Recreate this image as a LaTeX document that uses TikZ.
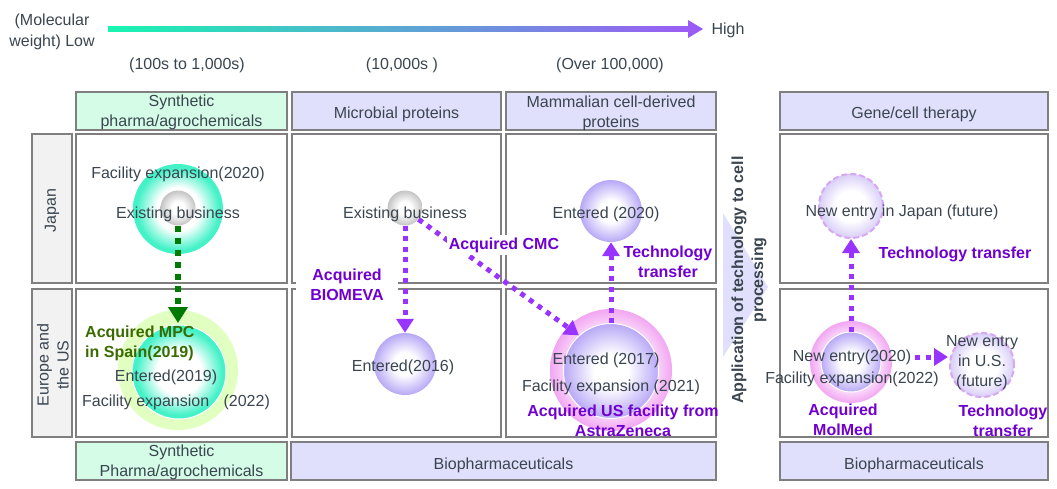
\documentclass[tikz,border=0pt]{standalone}
\usepackage{fontspec}
\setmainfont{Liberation Sans}
\usetikzlibrary{arrows.meta}
\definecolor{tcol}{HTML}{3A4550}
\definecolor{gborder}{HTML}{7F7F7F}
\definecolor{greenfill}{HTML}{D4FCE6}
\definecolor{lavfill}{HTML}{E0E0FC}
\definecolor{grayfill}{HTML}{F2F2F2}
\definecolor{purp}{HTML}{9933FF}
\definecolor{purptxt}{HTML}{7000D0}
\definecolor{dgreen}{HTML}{007A00}
\definecolor{olivetxt}{HTML}{3A6B00}
\definecolor{mteal}{HTML}{44F2C8}
\definecolor{lav}{HTML}{B8A8F6}
\definecolor{mpink}{HTML}{F2A6F2}
\definecolor{lime}{HTML}{E0FFC0}
\definecolor{futborder}{HTML}{D9A6F2}
\definecolor{futfill}{HTML}{D8CEF8}
\definecolor{sgray}{HTML}{C4C4C4}
\definecolor{tealbar}{HTML}{18F5B0}
\definecolor{purpbar}{HTML}{9B5CF5}
\pgfdeclareradialshading{tealball}{\pgfpoint{0bp}{0bp}}{color(0bp)=(white); color(12bp)=(white); color(23bp)=(mteal); color(50bp)=(mteal)}
\pgfdeclareradialshading{lavball}{\pgfpoint{0bp}{0bp}}{color(0bp)=(white); color(9bp)=(white); color(25bp)=(lav); color(50bp)=(lav)}
\pgfdeclareradialshading{pinkball}{\pgfpoint{0bp}{0bp}}{color(0bp)=(white); color(13bp)=(white); color(25bp)=(mpink); color(50bp)=(mpink)}
\pgfdeclareradialshading{grayball}{\pgfpoint{0bp}{0bp}}{color(0bp)=(white); color(9bp)=(white); color(25bp)=(sgray); color(50bp)=(sgray)}
\pgfdeclareradialshading{futball}{\pgfpoint{0bp}{0bp}}{color(0bp)=(white); color(12bp)=(white); color(25bp)=(futfill); color(50bp)=(futfill)}
\begin{document}
\begin{tikzpicture}[x=1pt,y=-1pt,
  lbl/.style={text=tcol, font=\fontsize{16}{20}\selectfont, align=center, inner sep=0pt, yshift=-2pt},
  blbl/.style={text=purptxt, font=\fontsize{16}{20}\selectfont\bfseries, align=center, inner sep=0pt, yshift=-2pt},
  cellbox/.style={draw=gborder, line width=1.2pt, inner sep=0pt},
  hdr/.style={cellbox, minimum height=38pt},
  parrow/.style={draw=purp, line width=5pt, dash pattern=on 5pt off 5.5pt, -{Triangle[width=17pt,length=14pt]}},
  garrow/.style={draw=dgreen, line width=6pt, dash pattern=on 6pt off 6pt, -{Triangle[width=19pt,length=16pt]}},
  ball/.style={circle, inner sep=0pt, shading=#1},
  gsphere/.style={circle, inner sep=0pt, shading=grayball, minimum size=35pt},
  future/.style={circle, inner sep=0pt, shading=futball, draw=futborder, line width=2pt, dash pattern=on 6pt off 3pt, minimum size=64pt}
]
\useasboundingbox (0,0) rectangle (1057,488);

% axis
\node[lbl, font=\fontsize{16}{21}\selectfont] (low) at (52,30) {(Molecular\\weight) Low};
\node[lbl] (high) at (728,28) {High};
\shade[left color=tealbar, right color=purpbar] (108,26.5) rectangle (690,31.5);
\fill[purpbar] (688,20) -- (703,29) -- (688,38) -- cycle;
\node[lbl] (m1) at (187,63) {(100s to 1,000s)};
\node[lbl] (m2) at (402,63) {(10,000s )};
\node[lbl] (m3) at (610,63) {(Over 100,000)};

% headers
\node[hdr, fill=greenfill, minimum width=211pt] (h1) at (181.5,111) {};
\node[hdr, fill=lavfill, minimum width=209pt] (h2) at (396.5,111) {};
\node[hdr, fill=lavfill, minimum width=210pt] (h3) at (611,111) {};
\node[hdr, fill=lavfill, minimum width=268pt] (h4) at (914,111) {};
\node[lbl] (h1t) at (181.5,110) {Synthetic\\pharma/agrochemicals};
\node[lbl] (h2t) at (396.5,112) {Microbial proteins};
\node[lbl] (h3t) at (611,111) {Mammalian cell-derived\\proteins};
\node[lbl] (h4t) at (914,112) {Gene/cell therapy};

% row labels
\node[cellbox, fill=grayfill, minimum width=40pt, minimum height=149pt] (rj) at (52,208.5) {};
\node[lbl, rotate=90, yshift=0pt] (rjt) at (52,208.5) {Japan};
\node[cellbox, fill=grayfill, minimum width=40pt, minimum height=148pt] (re) at (52,363) {};
\node[lbl, rotate=90, yshift=0pt] (ret) at (53,363) {Europe and\\the US};

% cells
\node[cellbox, minimum width=211pt, minimum height=149pt] (c11) at (181.5,208.5) {};
\node[cellbox, minimum width=209pt, minimum height=149pt] (c12) at (396.5,208.5) {};
\node[cellbox, minimum width=210pt, minimum height=149pt] (c13) at (611,208.5) {};
\node[cellbox, minimum width=268pt, minimum height=149pt] (c14) at (914,208.5) {};
\node[cellbox, minimum width=211pt, minimum height=148pt] (c21) at (181.5,363) {};
\node[cellbox, minimum width=209pt, minimum height=148pt] (c22) at (396.5,363) {};
\node[cellbox, minimum width=210pt, minimum height=148pt] (c23) at (611,363) {};
\node[cellbox, minimum width=268pt, minimum height=148pt] (c24) at (914,363) {};

% bottom
\node[hdr, fill=greenfill, minimum width=211pt] (b1) at (181.5,461) {};
\node[hdr, fill=lavfill, minimum width=425pt] (b2) at (503.5,461) {};
\node[hdr, fill=lavfill, minimum width=268pt] (b3) at (914,461) {};
\node[lbl] (b1t) at (181.5,460) {Synthetic\\Pharma/agrochemicals};
\node[lbl] (b2t) at (503.5,463) {Biopharmaceuticals};
\node[lbl] (b3t) at (914,463) {Biopharmaceuticals};

% chevron
\fill[lavfill] (723,213) -- (768,287) -- (723,357) -- cycle;
\node[text=tcol, font=\fontsize{16}{20}\selectfont\bfseries, align=center, inner sep=0pt, rotate=90] (app) at (749,280) {Application of technology to cell\\processing};

% circles
\node[ball=tealball, minimum size=90pt] (t1) at (178,209) {};
\node[gsphere] (g1) at (178,208) {};
\node[circle, inner sep=0pt, fill=lime, minimum size=120pt] (r1) at (178,370) {};
\node[ball=tealball, draw=white, line width=1pt, minimum size=94pt] (t2) at (179,372) {};

\node[gsphere] (g2) at (405,208) {};
\node[ball=lavball, minimum size=62pt] (l2) at (405,364) {};

\node[ball=lavball, minimum size=62pt] (l3) at (611,211) {};
\node[ball=pinkball, minimum size=122pt] (p4) at (611,370) {};
\node[ball=lavball, draw=white, line width=1pt, minimum size=95pt] (l4) at (611,371) {};

\node[future] (f1) at (851,206) {};
\node[ball=pinkball, minimum size=82pt] (p5) at (851,362) {};
\node[ball=lavball, draw=white, line width=1pt, minimum size=60pt] (l5) at (851,362) {};
\node[future] (f2) at (982,365) {};

% arrows
\coordinate (gtip) at (178,323);
\draw[garrow] (g1.south) -- (gtip);
\draw[parrow] (g2.south) -- (l2.north);
\draw[parrow] (g2.-40) -- (l4.132);
\draw[parrow] (l4.north) -- (l3.south);
\draw[parrow] (l5.north) -- (f1.south);
\coordinate (ha) at (915,357);
\coordinate (hb) at (948,357);
\draw[parrow] (ha) -- (hb);

% texts
\node[lbl] (t11a) at (178,172) {Facility expansion(2020)};
\node[lbl] (t11b) at (178,212) {Existing business};
\node[blbl, text=olivetxt, align=left, anchor=west] (mpc) at (85,341.5) {Acquired MPC\\in Spain(2019)};
\node[lbl] (t21a) at (166,375) {Entered(2019)};
\node[lbl] (t21b) at (176,400) {Facility expansion\hspace{0.9em}(2022)};

\node[lbl] (t12) at (405,212) {Existing business};
\node[blbl, fill=white, inner xsep=14pt, inner ysep=4pt, yshift=2pt] (biomeva) at (347,285) {Acquired\\BIOMEVA};
\node[blbl, fill=white, inner xsep=2pt, inner ysep=3pt] (cmc) at (504,243) {Acquired CMC};
\node[lbl] (t22) at (403,365) {Entered(2016)};

\node[lbl] (t13) at (606,212) {Entered (2020)};
\node[blbl] (tt1) at (668,260) {Technology\\transfer};
\node[lbl] (t23a) at (606,358) {Entered (2017)};
\node[lbl] (t23b) at (611,385) {Facility expansion (2021)};
\node[blbl] (az) at (623,419) {Acquired US facility from\\AstraZeneca};

\node[lbl] (t14) at (902,210) {New entry in Japan (future)};
\node[blbl] (tt2) at (955,252) {Technology transfer};
\node[lbl] (t24a) at (852,355) {New entry(2020)};
\node[lbl] (t24b) at (852,377) {Facility expansion(2022)};
\node[lbl] (t24c) at (982,361) {New entry\\in U.S.\\(future)};
\node[blbl] (molmed) at (843,418) {Acquired\\MolMed};
\node[blbl] (tt3) at (1003,419) {Technology\\transfer};
\end{tikzpicture}
\end{document}
